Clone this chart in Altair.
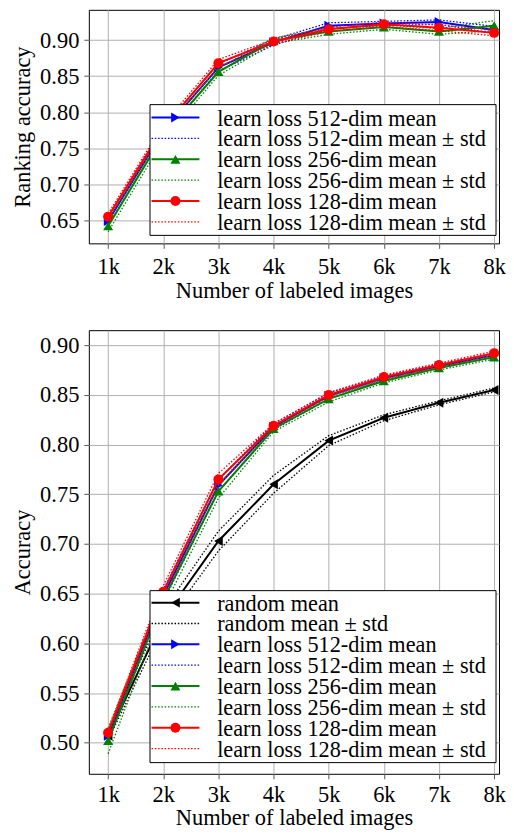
import altair as alt
import pandas as pd

# ---------------- data ----------------
x_k = [1, 2, 3, 4, 5, 6, 7, 8]

# Top panel: ranking accuracy
rank_512_mean = [0.649, 0.774, 0.862, 0.897, 0.920, 0.923, 0.925, 0.914]
rank_512_std = [0.006, 0.006, 0.005, 0.004, 0.004, 0.003, 0.003, 0.005]
rank_256_mean = [0.642, 0.768, 0.856, 0.899, 0.912, 0.918, 0.912, 0.920]
rank_256_std = [0.008, 0.007, 0.005, 0.004, 0.004, 0.003, 0.004, 0.007]
rank_128_mean = [0.655, 0.778, 0.868, 0.898, 0.915, 0.922, 0.917, 0.910]
rank_128_std = [0.004, 0.005, 0.005, 0.003, 0.003, 0.003, 0.004, 0.004]

# Bottom panel: accuracy
acc_random_mean = [0.507, 0.625, 0.703, 0.760, 0.804, 0.827, 0.842, 0.855]
acc_random_std = [0.004, 0.008, 0.010, 0.009, 0.005, 0.003, 0.002, 0.002]
acc_512_mean = [0.507, 0.648, 0.759, 0.818, 0.849, 0.867, 0.879, 0.890]
acc_512_std = [0.004, 0.006, 0.006, 0.003, 0.003, 0.002, 0.002, 0.002]
acc_256_mean = [0.502, 0.644, 0.753, 0.816, 0.846, 0.864, 0.877, 0.888]
acc_256_std = [0.013, 0.008, 0.007, 0.003, 0.003, 0.002, 0.002, 0.002]
acc_128_mean = [0.510, 0.652, 0.765, 0.819, 0.850, 0.868, 0.880, 0.892]
acc_128_std = [0.003, 0.006, 0.006, 0.002, 0.002, 0.002, 0.002, 0.002]

rank_ticks = [0.65, 0.70, 0.75, 0.80, 0.85, 0.90]
acc_ticks = [0.50, 0.55, 0.60, 0.65, 0.70, 0.75, 0.80, 0.85, 0.90]

FONT = "Liberation Serif"
FS = 22.5
LFS = 22.3
W = 411
ROW = 20.9


def panel(series, y_title, y_domain, y_ticks, height, leg_box, leg_y0, lab_pad, tit_pad):
    X = alt.X("x:Q", scale=alt.Scale(domain=[0.65, 8.088], nice=False, zero=False),
              axis=alt.Axis(values=x_k, labelExpr="datum.value + 'k'",
                            title="Number of labeled images",
                            labelPadding=lab_pad, titlePadding=tit_pad))
    Y = alt.Y("y:Q", scale=alt.Scale(domain=y_domain, nice=False, zero=False),
              axis=alt.Axis(values=y_ticks, format=".2f", title=y_title,
                            labelPadding=5, titlePadding=5))
    layers = []
    for name, color, shape, mean, std in series:
        dm = pd.DataFrame({"x": x_k, "y": mean})
        du = pd.DataFrame({"x": x_k, "y": [m + s for m, s in zip(mean, std)]})
        dl = pd.DataFrame({"x": x_k, "y": [m - s for m, s in zip(mean, std)]})
        layers.append(alt.Chart(dm).mark_line(color=color, strokeWidth=2, clip=True)
                      .encode(x=X, y=Y))
        layers.append(alt.Chart(dm).mark_point(color=color, shape=shape, filled=True,
                                               size=100, opacity=1)
                      .encode(x=X, y=Y))
        for d in (du, dl):
            layers.append(alt.Chart(d).mark_line(color=color, strokeWidth=1.3,
                                                 strokeDash=[1.5, 1.8], clip=True)
                          .encode(x=X, y=Y))

    # legend (drawn inside the plot, lower right)
    bx0, bx1, by0, by1 = leg_box
    rows = []
    i = 0
    for name, color, shape, mean, std in series:
        for kind in ("mean", "std"):
            rows.append({
                "x0": bx0 + 1.5, "x1": bx0 + 49.5, "xm": bx0 + 25.5, "xt": bx0 + 67.3,
                "yr": leg_y0 + i * ROW, "color": color, "shape": shape,
                "dash": kind,
                "label": f"{name} mean" if kind == "mean" else f"{name} mean \u00b1 std",
            })
            i += 1
    ld = pd.DataFrame(rows)
    box = alt.Chart(pd.DataFrame({"a": [0]})).mark_rect(
        fill="white", stroke="black", strokeWidth=1, opacity=1).encode(
        x=alt.value(bx0), x2=alt.value(bx1), y=alt.value(by0), y2=alt.value(by1))
    samp = alt.Chart(ld).mark_rule().encode(
        x=alt.X("x0:Q", scale=None), x2="x1:Q", y=alt.Y("yr:Q", scale=None),
        color=alt.Color("color:N", scale=None),
        strokeWidth=alt.StrokeWidth("dash:N", scale=alt.Scale(domain=["mean", "std"], range=[2, 1.3]), legend=None),
        strokeDash=alt.StrokeDash("dash:N", scale=alt.Scale(domain=["mean", "std"],
                                                             range=[[1, 0], [1.5, 1.8]]), legend=None))
    mk = alt.Chart(ld[ld["dash"] == "mean"]).mark_point(filled=True, size=100, opacity=1).encode(
        x=alt.X("xm:Q", scale=None), y=alt.Y("yr:Q", scale=None),
        color=alt.Color("color:N", scale=None), shape=alt.Shape("shape:N", scale=None))
    tx = alt.Chart(ld).mark_text(align="left", baseline="middle", font=FONT, fontSize=LFS,
                                 color="black", dy=1).encode(
        x=alt.X("xt:Q", scale=None), y=alt.Y("yr:Q", scale=None), text="label:N")
    layers += [box, samp, mk, tx]
    return alt.layer(*layers).properties(width=W, height=height)


top_series = [
    ("learn loss 512-dim", "#0000ff", "triangle-right", rank_512_mean, rank_512_std),
    ("learn loss 256-dim", "#008000", "triangle-up", rank_256_mean, rank_256_std),
    ("learn loss 128-dim", "#ff0000", "circle", rank_128_mean, rank_128_std),
]
bot_series = [
    ("random", "#000000", "triangle-left", acc_random_mean, acc_random_std),
    ("learn loss 512-dim", "#0000ff", "triangle-right", acc_512_mean, acc_512_std),
    ("learn loss 256-dim", "#008000", "triangle-up", acc_256_mean, acc_256_std),
    ("learn loss 128-dim", "#ff0000", "circle", acc_128_mean, acc_128_std),
]

top = panel(top_series, "Ranking accuracy", [0.6179, 0.9420], rank_ticks, 234,
            (61.3, 408, 95, 226), 108.0, 7, 2)
bottom = panel(bot_series, "Accuracy", [0.4688, 0.9151], acc_ticks, 444.5,
               (61.3, 408, 261, 433.3), 273.0, 5, 0)

chart = alt.vconcat(top, bottom, spacing=26).properties(
    padding={"left": 3, "top": 0, "right": 0, "bottom": 0}
).configure_view(stroke="black", strokeWidth=1).configure_axis(
    labelFont=FONT, titleFont=FONT, labelFontSize=FS, titleFontSize=FS,
    labelColor="black", titleColor="black", titleFontWeight="normal",
    gridColor="#b0b0b0", gridWidth=1, grid=True, tickColor="#555", tickSize=5,
    domain=False
)

chart.save("out.html", embed_options={"renderer": "svg", "actions": False})
